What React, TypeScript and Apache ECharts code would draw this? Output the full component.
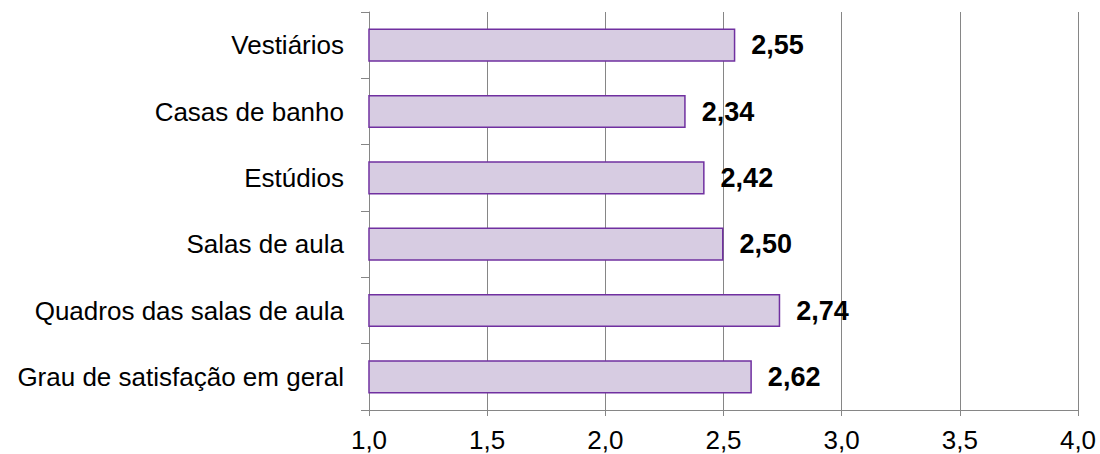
import React, { useEffect, useRef } from "react";
import * as echarts from "echarts";

const categories = [
  "Grau de satisfação em geral",
  "Quadros das salas de aula",
  "Salas de aula",
  "Estúdios",
  "Casas de banho",
  "Vestiários",
];
const values = [2.62, 2.74, 2.5, 2.42, 2.34, 2.55];
const axisMin = 1.0;
const axisMax = 4.0;
const axisStep = 0.5;

export default function App() {
  const ref = useRef<HTMLDivElement>(null);
  useEffect(() => {
    if (!ref.current) return;
    const chart = echarts.init(ref.current, null, { renderer: "svg" });
    const font = "Liberation Sans, Arial, sans-serif";
    chart.setOption({
      animation: false,
      grid: { left: 369, right: 22, top: 12, bottom: 44, containLabel: false },
      xAxis: {
        type: "value",
        min: axisMin,
        max: axisMax,
        interval: axisStep,
        axisLine: { show: true, lineStyle: { color: "#868686", width: 1 } },
        axisTick: { show: true, length: 6, lineStyle: { color: "#868686" } },
        splitLine: { show: true, lineStyle: { color: "#868686", width: 1 } },
        axisLabel: {
          color: "#000",
          fontFamily: font,
          fontSize: 26,
          margin: 17,
          formatter: (v: number) => v.toFixed(1).replace(".", ","),
        },
      },
      yAxis: {
        type: "category",
        data: categories,
        axisLine: { show: true, lineStyle: { color: "#868686", width: 1 } },
        axisTick: { show: true, length: 8, lineStyle: { color: "#868686" } },
        splitLine: { show: false },
        axisLabel: { color: "#000", fontFamily: font, fontSize: 26, margin: 25 },
      },
      series: [
        {
          type: "bar",
          data: values,
          barCategoryGap: "50%",
          itemStyle: { color: "#D7CCE2", borderColor: "#7030A0", borderWidth: 1.5 },
          label: {
            show: true,
            position: "right",
            distance: 16,
            color: "#000",
            fontFamily: font,
            fontSize: 27,
            fontWeight: "bold",
            formatter: (p: any) => Number(p.value).toFixed(2).replace(".", ","),
          },
        },
      ],
    });
    return () => chart.dispose();
  }, []);
  return (
    <div
      ref={ref}
      style={{ position: "absolute", left: 0, top: 0, width: 1100, height: 454 }}
    />
  );
}
